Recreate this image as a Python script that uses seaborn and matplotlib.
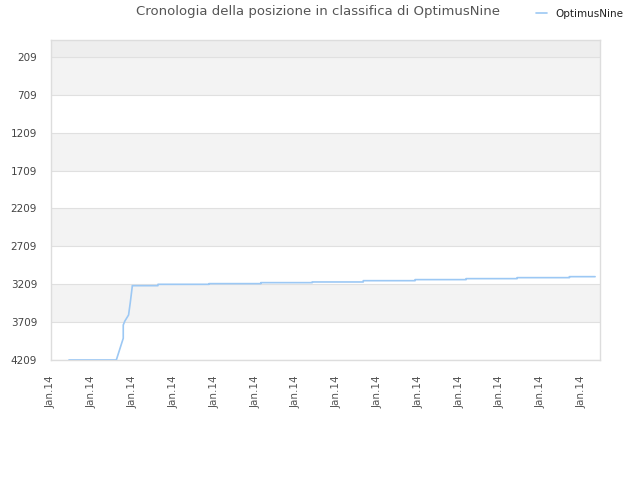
import matplotlib
matplotlib.use("Agg")
import matplotlib.pyplot as plt
import seaborn as sns
import pandas as pd

# Data (x in tick units, one unit per "Jan.14" label)
x_pos = [0.44, 1.60, 1.77, 1.77, 1.81, 1.90, 1.94, 1.99, 1.99, 2.62, 2.62,
         3.87, 3.87, 5.14, 5.14, 6.40, 6.40, 7.65, 7.65, 8.92, 8.92,
         10.17, 10.17, 11.42, 11.42, 12.70, 12.70, 13.33]
rank = [4209, 4209, 3922, 3747, 3694, 3615, 3460, 3241, 3228, 3228, 3210,
        3210, 3201, 3201, 3188, 3188, 3179, 3179, 3162, 3162, 3148,
        3148, 3135, 3135, 3122, 3122, 3109, 3109]
y_ticks = [209, 709, 1209, 1709, 2209, 2709, 3209, 3709, 4209]
x_labels = ["Jan.14"] * 14
series_name = "OptimusNine"
title = "Cronologia della posizione in classifica di OptimusNine"

df = pd.DataFrame({"x": x_pos, "rank": rank})

sns.set_style("white")
plt.rcParams["font.family"] = ["DejaVu Sans"]

fig = plt.figure(figsize=(6.4, 4.8), dpi=100)
ax = fig.add_axes([0.0797, 0.25, 0.8578, 0.6667])

y_top = -15
ax.set_ylim(4209, y_top)
ax.set_xlim(0, 13.45)

# alternating background bands
ax.axhspan(y_top, y_ticks[0], color="#eeeeee", zorder=0, lw=0)
for i in range(len(y_ticks) - 1):
    if i % 2 == 0:
        ax.axhspan(y_ticks[i], y_ticks[i + 1], color="#f3f3f3", zorder=0, lw=0)
for t in y_ticks:
    ax.axhline(t, color="#e0e0e0", lw=0.8, zorder=1)

sns.lineplot(data=df, x="x", y="rank", estimator=None, sort=False,
             color="#9cc8f4", lw=1.2, ax=ax, label=series_name, zorder=3)

ax.set_yticks(y_ticks)
ax.set_yticklabels([str(t) for t in y_ticks], fontsize=7.5, color="#444444")
ax.set_xticks(range(len(x_labels)))
ax.set_xticklabels(x_labels, rotation=90, fontsize=7.5, color="#555555")
ax.tick_params(axis="y", length=0, pad=10)
ax.tick_params(axis="x", length=0, pad=11)
ax.set_xlabel("")
ax.set_ylabel("")

for s in ax.spines.values():
    s.set_color("#dddddd")
    s.set_linewidth(1)

fig.text(0.497, 0.975, title, ha="center", va="center", fontsize=9.5, color="#555555")

leg = ax.legend(loc="center", bbox_to_anchor=(0.963, 1.081), frameon=False,
                fontsize=7.5, handlelength=1.0, handletextpad=0.8)
for t in leg.get_texts():
    t.set_color("#222222")

fig.savefig("out.png", dpi=100)
